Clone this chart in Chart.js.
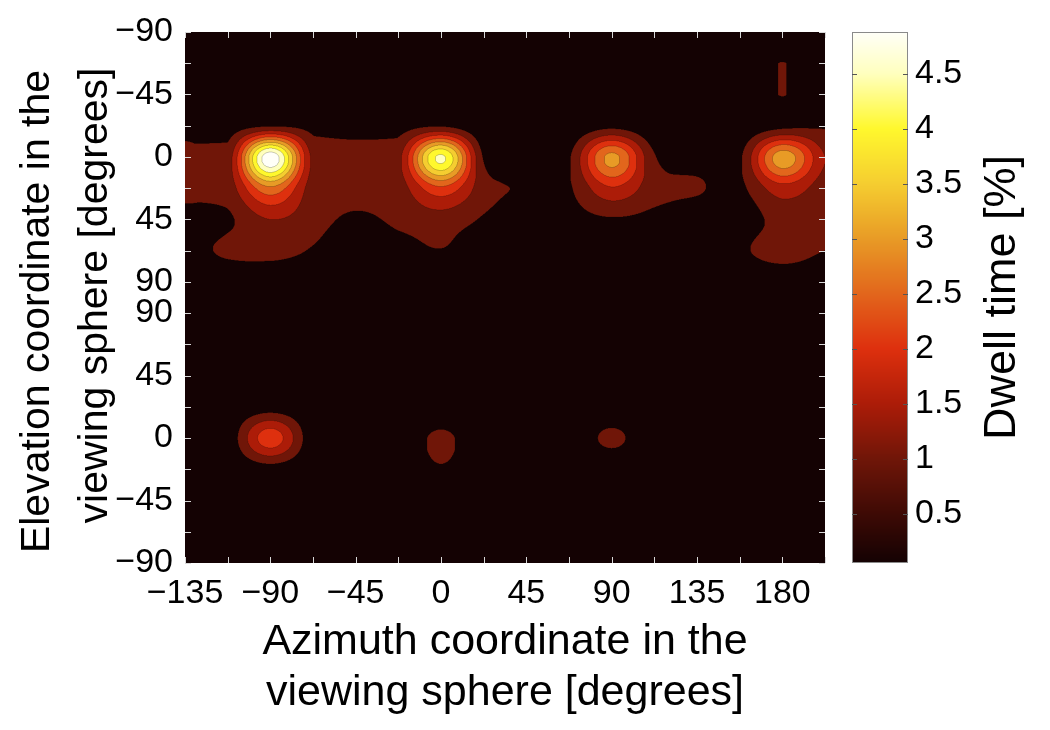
<!DOCTYPE html>
<html>
<head>
<meta charset="utf-8">
<script src="https://cdn.jsdelivr.net/npm/chart.js@4.4.1/dist/chart.umd.min.js"></script>
<style>
  html, body { margin: 0; padding: 0; background: #fff; }
</style>
</head>
<body>
<canvas id="chart" width="1050" height="730"></canvas>
<script>
// azimuth grid (degrees), one column per 22.5 deg
const AZIMUTH = [-135, -112.5, -90, -67.5, -45, -22.5, 0, 22.5, 45, 67.5, 90, 112.5, 135, 157.5, 180, 202.5];
const X_TICK_LABELS = ['\u2212135', '', '\u221290', '', '\u221245', '', '0', '', '45', '', '90', '', '135', '', '180', ''];

// elevation rows: upper hemisphere -90..90, then lower hemisphere 90..-90
const ROW_LABELS = ['\u221290', '', '\u221245', '', '0', '', '45', '', '90',
                    '90', '', '45', '', '0', '', '\u221245', '', '\u221290'];

// dwell time [%], rows follow ROW_LABELS, columns follow AZIMUTH
const DWELL = [
  [0.08, 0.08, 0.08, 0.08, 0.08, 0.08, 0.08, 0.08, 0.08, 0.08, 0.08, 0.08, 0.08, 0.08, 0.10, 0.08],
  [0.10, 0.10, 0.10, 0.10, 0.10, 0.10, 0.10, 0.10, 0.10, 0.10, 0.10, 0.10, 0.10, 0.10, 0.51, 0.10],
  [0.10, 0.10, 0.10, 0.10, 0.10, 0.10, 0.10, 0.10, 0.10, 0.10, 0.10, 0.10, 0.10, 0.10, 0.51, 0.10],
  [0.20, 0.25, 0.45, 0.35, 0.25, 0.30, 0.45, 0.10, 0.08, 0.10, 0.35, 0.10, 0.08, 0.10, 0.35, 0.45],
  [0.80, 0.70, 4.85, 0.85, 0.80, 0.85, 4.10, 0.45, 0.15, 0.45, 2.65, 0.55, 0.30, 0.42, 2.80, 1.00],
  [0.80, 0.72, 2.40, 0.75, 0.75, 0.75, 1.90, 0.72, 0.46, 0.45, 1.45, 0.70, 0.55, 0.40, 1.30, 0.75],
  [0.20, 0.42, 1.00, 0.70, 0.40, 0.60, 0.75, 0.45, 0.12, 0.30, 0.45, 0.35, 0.20, 0.20, 0.70, 0.70],
  [0.30, 0.60, 0.70, 0.45, 0.10, 0.30, 0.48, 0.20, 0.08, 0.10, 0.10, 0.10, 0.08, 0.40, 0.75, 0.50],
  [0.08, 0.10, 0.10, 0.10, 0.08, 0.08, 0.10, 0.08, 0.08, 0.08, 0.08, 0.08, 0.08, 0.10, 0.12, 0.10],
  [0.06, 0.06, 0.06, 0.06, 0.06, 0.06, 0.06, 0.06, 0.06, 0.06, 0.06, 0.06, 0.06, 0.06, 0.06, 0.06],
  [0.06, 0.06, 0.06, 0.06, 0.06, 0.06, 0.06, 0.06, 0.06, 0.06, 0.06, 0.06, 0.06, 0.06, 0.06, 0.06],
  [0.06, 0.06, 0.06, 0.06, 0.06, 0.06, 0.06, 0.06, 0.06, 0.06, 0.06, 0.06, 0.06, 0.06, 0.06, 0.06],
  [0.06, 0.06, 0.25, 0.06, 0.06, 0.06, 0.05, 0.06, 0.06, 0.06, 0.06, 0.06, 0.06, 0.06, 0.06, 0.06],
  [0.06, 0.15, 1.80, 0.15, 0.06, 0.06, 0.62, 0.06, 0.06, 0.06, 0.62, 0.06, 0.06, 0.06, 0.06, 0.06],
  [0.06, 0.06, 0.28, 0.06, 0.06, 0.06, 0.45, 0.06, 0.06, 0.06, 0.06, 0.06, 0.06, 0.06, 0.06, 0.06],
  [0.06, 0.06, 0.06, 0.06, 0.06, 0.06, 0.06, 0.06, 0.06, 0.06, 0.06, 0.06, 0.06, 0.06, 0.06, 0.06],
  [0.06, 0.06, 0.06, 0.06, 0.06, 0.06, 0.06, 0.06, 0.06, 0.06, 0.06, 0.06, 0.06, 0.06, 0.06, 0.06],
  [0.06, 0.06, 0.06, 0.06, 0.06, 0.06, 0.06, 0.06, 0.06, 0.06, 0.06, 0.06, 0.06, 0.06, 0.06, 0.06]
];

const LEVELS = [0.5, 1, 1.5, 2, 2.5, 3, 3.5, 4, 4.5];
const CBAR_MIN = 0.05;
const CBAR_MAX = 4.88;

// colour map
const CMAP_VALUES = [0.05, 0.5, 1, 1.5, 2, 2.5, 3, 3.5, 4, 4.5, 4.88];
const CMAP_COLORS = [
  [20, 2, 3], [62, 10, 5], [112, 22, 8], [172, 28, 8], [222, 48, 14], [226, 102, 28],
  [232, 155, 38], [245, 205, 48], [255, 248, 45], [255, 255, 190], [255, 255, 248]
];

const Y_TITLE = ['Elevation coordinate in the', 'viewing sphere [degrees]'];
const X_TITLE = ['Azimuth coordinate in the', 'viewing sphere [degrees]'];
const CBAR_TITLE = 'Dwell time [%]';

const FONT = '"Liberation Sans", Arial, Helvetica, sans-serif';

function cmap(v) {
  if (v <= CMAP_VALUES[0]) return CMAP_COLORS[0];
  for (let k = 1; k < CMAP_VALUES.length; k++) {
    if (v <= CMAP_VALUES[k]) {
      const t = (v - CMAP_VALUES[k - 1]) / (CMAP_VALUES[k] - CMAP_VALUES[k - 1]);
      const a = CMAP_COLORS[k - 1], b = CMAP_COLORS[k];
      return [a[0] + (b[0] - a[0]) * t, a[1] + (b[1] - a[1]) * t, a[2] + (b[2] - a[2]) * t];
    }
  }
  return CMAP_COLORS[CMAP_COLORS.length - 1];
}

// each band gets the colour of its upper level
const BAND_COLORS = [];
for (let k = 0; k <= LEVELS.length; k++) {
  const v = k === 0 ? CBAR_MIN : (k < LEVELS.length ? LEVELS[k] : CBAR_MAX);
  BAND_COLORS.push(cmap(v));
}

function bandOf(v) {
  let k = 0;
  while (k < LEVELS.length && v >= LEVELS[k]) k++;
  return k;
}

function gridAt(j, i) {
  if (j < 0) j = 0; else if (j > DWELL.length - 1) j = DWELL.length - 1;
  if (i < 0) i = 0; else if (i > AZIMUTH.length - 1) i = AZIMUTH.length - 1;
  return DWELL[j][i];
}

// Catmull-Rom, clamped between the two inner points so nothing over/undershoots
function cubic(p0, p1, p2, p3, t) {
  const v = p1 + 0.5 * t * (p2 - p0 + t * (2 * p0 - 5 * p1 + 4 * p2 - p3 + t * (3 * (p1 - p2) + p3 - p0)));
  const lo = Math.min(p1, p2), hi = Math.max(p1, p2);
  return v < lo ? lo : (v > hi ? hi : v);
}

function sample(col, row) {
  const i = Math.floor(col), j = Math.floor(row);
  const tx = col - i, ty = row - j;
  const r = [0, 0, 0, 0];
  for (let m = -1; m <= 2; m++) {
    r[m + 1] = cubic(gridAt(j + m, i - 1), gridAt(j + m, i), gridAt(j + m, i + 1), gridAt(j + m, i + 2), tx);
  }
  return cubic(r[0], r[1], r[2], r[3], ty);
}

// filled contours, drawn per pixel through the x / y scales
const contourPlugin = {
  id: 'contourFill',
  beforeDatasetsDraw(chart) {
    const { ctx, chartArea: a, scales: { x, y } } = chart;
    const W = Math.round(a.right - a.left), H = Math.round(a.bottom - a.top);
    const S = 2, FW = W * S, FH = H * S;
    const colStep = AZIMUTH[1] - AZIMUTH[0];
    const cols = new Float64Array(FW);
    for (let fx = 0; fx < FW; fx++) {
      cols[fx] = (x.getValueForPixel(a.left + (fx + 0.5) / S) - AZIMUTH[0]) / colStep;
    }
    const bands = new Uint8Array(FW * FH);
    for (let fy = 0; fy < FH; fy++) {
      const row = y.getValueForPixel(a.top + (fy + 0.5) / S);
      for (let fx = 0; fx < FW; fx++) {
        bands[fy * FW + fx] = bandOf(sample(cols[fx], row));
      }
    }
    const off = document.createElement('canvas');
    off.width = W; off.height = H;
    const octx = off.getContext('2d');
    const img = octx.createImageData(W, H);
    for (let py = 0; py < H; py++) {
      for (let px = 0; px < W; px++) {
        let r = 0, g = 0, b = 0;
        for (let sy = 0; sy < S; sy++) {
          for (let sx = 0; sx < S; sx++) {
            const fx = px * S + sx, fy = py * S + sy;
            const k = bands[fy * FW + fx];
            const c = BAND_COLORS[k];
            let edge = false;
            if (fx + 1 < FW && bands[fy * FW + fx + 1] !== k) edge = true;
            if (fx > 0 && bands[fy * FW + fx - 1] !== k) edge = true;
            if (fy + 1 < FH && bands[(fy + 1) * FW + fx] !== k) edge = true;
            if (fy > 0 && bands[(fy - 1) * FW + fx] !== k) edge = true;
            const f = edge ? 0.8 : 1;
            r += c[0] * f; g += c[1] * f; b += c[2] * f;
          }
        }
        const o = (py * W + px) * 4;
        img.data[o] = r / (S * S);
        img.data[o + 1] = g / (S * S);
        img.data[o + 2] = b / (S * S);
        img.data[o + 3] = 255;
      }
    }
    octx.putImageData(img, 0, 0);
    ctx.drawImage(off, a.left, a.top);
  },
  afterDatasetsDraw(chart) {
    const { ctx, chartArea: a, scales: { x, y, cb } } = chart;
    ctx.save();
    // inward tick marks on all four sides of the plot
    ctx.strokeStyle = '#d8d8d8';
    ctx.lineWidth = 1;
    ctx.beginPath();
    x.ticks.forEach(t => {
      const px = Math.round(x.getPixelForValue(t.value)) + 0.5;
      ctx.moveTo(px, a.bottom); ctx.lineTo(px, a.bottom - 6);
      ctx.moveTo(px, a.top); ctx.lineTo(px, a.top + 6);
    });
    y.ticks.forEach(t => {
      const py = Math.round(y.getPixelForValue(t.value)) + 0.5;
      ctx.moveTo(a.left, py); ctx.lineTo(a.left + 6, py);
      ctx.moveTo(a.right, py); ctx.lineTo(a.right - 6, py);
    });
    ctx.stroke();

    // colour bar
    const cbLeft = cb.left + 27, cbRight = cb.left + 83;
    for (let py = Math.floor(cb.top); py < Math.ceil(cb.bottom); py++) {
      const c = cmap(cb.getValueForPixel(py + 0.5));
      ctx.fillStyle = 'rgb(' + Math.round(c[0]) + ',' + Math.round(c[1]) + ',' + Math.round(c[2]) + ')';
      ctx.fillRect(cbLeft, py, cbRight - cbLeft, 1);
    }
    ctx.strokeStyle = '#8a8a8a';
    ctx.strokeRect(cbLeft + 0.5, Math.round(cb.top) + 0.5, cbRight - cbLeft - 1, Math.round(cb.bottom - cb.top) - 1);
    ctx.strokeStyle = '#555';
    ctx.beginPath();
    cb.ticks.forEach(t => {
      const py = Math.round(cb.getPixelForValue(t.value)) + 0.5;
      ctx.moveTo(cbLeft, py); ctx.lineTo(cbLeft + 5, py);
      ctx.moveTo(cbRight, py); ctx.lineTo(cbRight - 5, py);
    });
    ctx.stroke();

    ctx.fillStyle = '#000';
    ctx.textAlign = 'center';
    ctx.textBaseline = 'middle';

    // y-axis title, two lines reading bottom to top
    const midY = (a.top + a.bottom) / 2;
    ctx.font = '41px ' + FONT;
    [[38, midY + 14], [96, midY - 2]].forEach(([cx, cy], n) => {
      ctx.save();
      ctx.translate(cx, cy);
      ctx.rotate(-Math.PI / 2);
      ctx.fillText(Y_TITLE[n], 0, 0);
      ctx.restore();
    });

    // colour bar title, reading bottom to top
    ctx.font = '45px ' + FONT;
    ctx.translate(cb.left + 178, (cb.top + cb.bottom) / 2);
    ctx.rotate(-Math.PI / 2);
    ctx.fillText(CBAR_TITLE, 0, 0);
    ctx.restore();
  }
};

new Chart(document.getElementById('chart'), {
  type: 'scatter',
  data: { datasets: [] },
  options: {
    responsive: false,
    animation: false,
    layout: { padding: { top: 32, left: 0, right: 0, bottom: 0 } },
    plugins: { legend: { display: false }, tooltip: { enabled: false } },
    scales: {
      x: {
        type: 'linear',
        position: 'bottom',
        min: AZIMUTH[0],
        max: AZIMUTH[AZIMUTH.length - 1],
        grid: { display: false, drawTicks: false },
        border: { display: false },
        ticks: {
          stepSize: 22.5,
          autoSkip: false,
          maxRotation: 0,
          padding: 10,
          color: '#000',
          font: { family: FONT, size: 34 },
          callback: v => X_TICK_LABELS[AZIMUTH.indexOf(v)] || ''
        },
        title: {
          display: true,
          text: X_TITLE,
          color: '#000',
          font: { family: FONT, size: 43, lineHeight: 1.19 },
          padding: { top: 0, bottom: 11 }
        },
        afterFit: s => { s.height = 167; s.paddingLeft = 0; s.paddingRight = 0; }
      },
      y: {
        type: 'linear',
        position: 'left',
        reverse: true,
        min: 0,
        max: ROW_LABELS.length - 1,
        grid: { display: false, drawTicks: false },
        border: { display: false },
        ticks: {
          stepSize: 1,
          autoSkip: false,
          padding: 12,
          color: '#000',
          font: { family: FONT, size: 34 },
          callback: v => ROW_LABELS[v] || ''
        },
        afterFit: s => { s.width = 185; s.paddingTop = 0; s.paddingBottom = 0; }
      },
      cb: {
        type: 'linear',
        position: 'right',
        min: CBAR_MIN,
        max: CBAR_MAX,
        grid: { display: false, drawTicks: false },
        border: { display: false },
        ticks: {
          stepSize: 0.5,
          includeBounds: false,
          padding: 90,
          color: '#000',
          font: { family: FONT, size: 34 },
          callback: v => String(v)
        },
        afterFit: s => { s.width = 225; s.paddingTop = 0; s.paddingBottom = 0; }
      }
    }
  },
  plugins: [contourPlugin]
});
</script>
</body>
</html>
